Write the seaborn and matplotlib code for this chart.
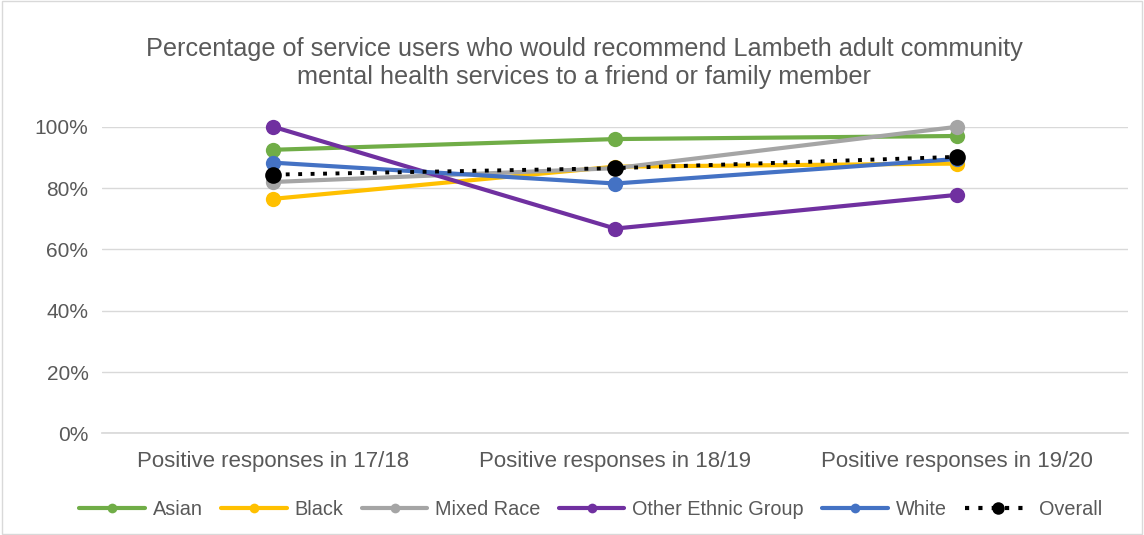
import matplotlib.pyplot as plt
from matplotlib.lines import Line2D
import seaborn as sns
import pandas as pd

# values (fraction of positive responses)
years = ["Positive responses in 17/18", "Positive responses in 18/19", "Positive responses in 19/20"]
asian = [0.925, 0.96, 0.97]
black = [0.765, 0.87, 0.88]
mixed = [0.82, 0.865, 1.0]
other = [1.0, 0.668, 0.778]
white = [0.883, 0.815, 0.895]
overall = [0.844, 0.865, 0.902]

series = ["Asian", "Black", "Mixed Race", "Other Ethnic Group", "White", "Overall"]
colours = ["#70AD47", "#FFC000", "#A5A5A5", "#7030A0", "#4472C4", "#000000"]

df = pd.DataFrame({"year": years * 6,
                   "pos": [0, 1, 2] * 6,
                   "value": asian + black + mixed + other + white + overall,
                   "group": [s for s in series for _ in range(3)]})

sns.set_theme(style="white")
plt.rcParams['font.family'] = ['Liberation Sans', 'DejaVu Sans']
txt = "#595959"
dotted = (0, (1, 2.2))

fig = plt.figure(figsize=(11.44, 5.35), dpi=100)
ax = fig.add_axes([0.0895, 0.19, 0.8965, 0.573])

for name, col in zip(series, colours):
    d = df[df.group == name]
    if name == "Overall":
        sns.lineplot(data=d, x="pos", y="value", ax=ax, color=col, linestyle=dotted,
                     linewidth=2.8, marker="o", markersize=12, markeredgewidth=0,
                     clip_on=False, zorder=5)
    else:
        sns.lineplot(data=d, x="pos", y="value", ax=ax, color=col, linewidth=3,
                     marker="o", markersize=11, markeredgewidth=0,
                     clip_on=False)

ax.set_xlim(-0.5, 2.5)
ax.set_ylim(0, 1.0)
ax.set_xticks([0, 1, 2])
ax.set_xticklabels(years, fontsize=16, color=txt)
ax.set_yticks([0, 0.2, 0.4, 0.6, 0.8, 1.0])
ax.set_yticklabels(["0%", "20%", "40%", "60%", "80%", "100%"], fontsize=15, color=txt)
ax.tick_params(axis="x", length=0, pad=13)
ax.tick_params(axis="y", length=0, pad=10)
ax.set_xlabel("")
ax.set_ylabel("")
ax.grid(axis="y", color="#D9D9D9", linewidth=1)
for s in ["top", "left", "right"]:
    ax.spines[s].set_visible(False)
ax.spines["bottom"].set_color("#D9D9D9")

fig.text(584 / 1144, 1 - 63 / 535,
         "Percentage of service users who would recommend Lambeth adult community\nmental health services to a friend or family member",
         fontsize=18.2, color=txt, ha="center", va="center", linespacing=1.25)

handles = []
for name, col in zip(series, colours):
    ls = dotted if name == "Overall" else "-"
    ms = 9 if name == "Overall" else 7
    handles.append(Line2D([], [], color=col, linestyle=ls, linewidth=3,
                          marker="o", markersize=ms, markeredgewidth=0))
ax.legend(handles, series, loc="upper center", bbox_to_anchor=(0.476, -0.16), ncol=6,
          frameon=False, fontsize=14.3, labelcolor=txt, handlelength=3.3, columnspacing=0.92,
          handletextpad=0.4)

fig.patches.append(plt.Rectangle((0.002, 0.002), 0.996, 0.996, transform=fig.transFigure,
                                 fill=False, edgecolor="#D9D9D9", linewidth=1))
fig.savefig("out.png", dpi=100)
